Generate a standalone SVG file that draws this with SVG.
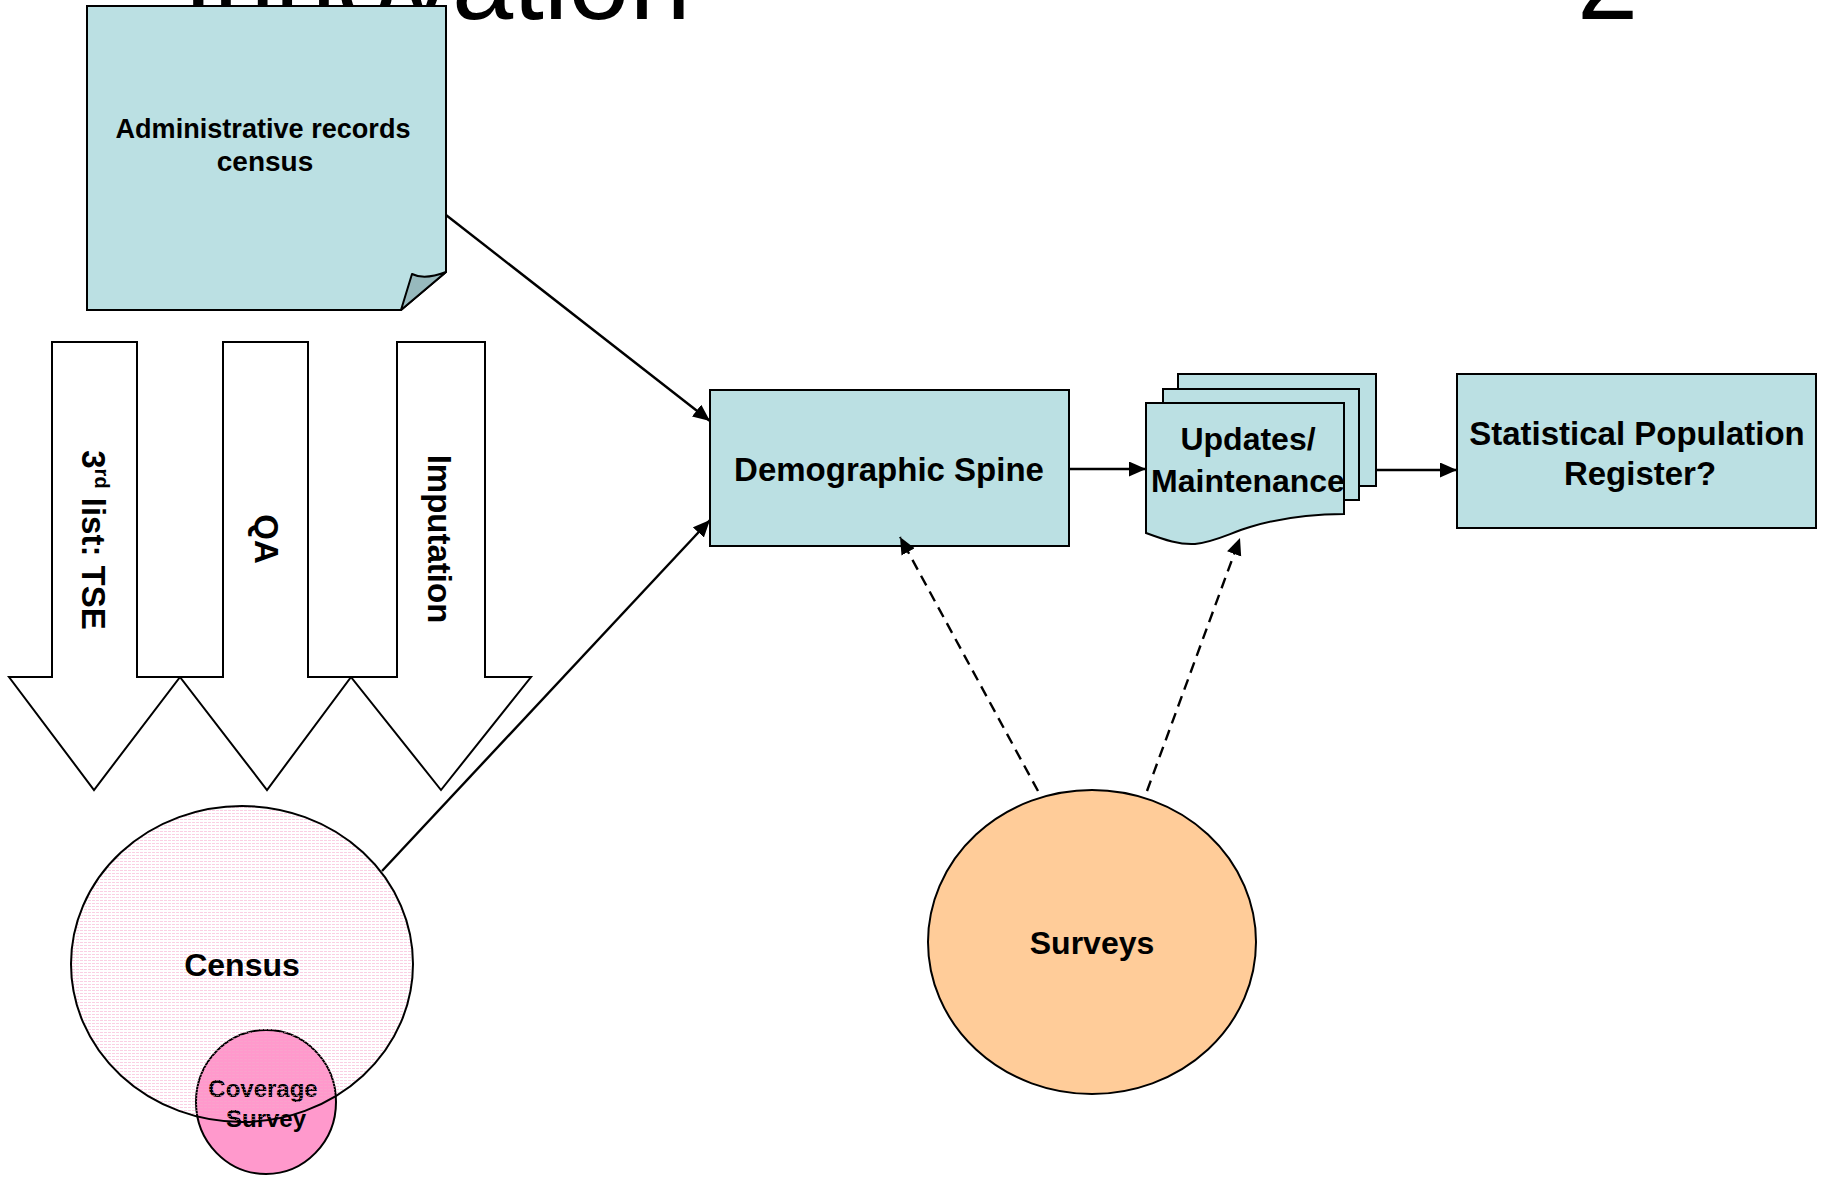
<svg xmlns="http://www.w3.org/2000/svg" width="1825" height="1179" viewBox="0 0 1825 1179">
<style>
.box{fill:#BBE0E3;stroke:#000;stroke-width:2}
.blk{fill:#fff;stroke:#000;stroke-width:2}
.t{font-family:"Liberation Sans",Arial,sans-serif;font-weight:bold;fill:#000;text-anchor:middle}
.title{font-family:"Liberation Sans",Arial,sans-serif;font-size:110px;fill:#000}
.conn{stroke:#000;stroke-width:2.4;fill:none}
.dash{stroke-dasharray:11 7}
</style>
<defs>
<marker id="ah" markerUnits="userSpaceOnUse" markerWidth="20" markerHeight="16" refX="17" refY="7.5" orient="auto">
<path d="M0,0 L17,7.5 L0,15 Z" fill="#000"/>
</marker>
<pattern id="pinkdots" width="4" height="3" patternUnits="userSpaceOnUse">
<rect x="0" y="0" width="3" height="1" fill="#F5A9CB" fill-opacity="0.55"/>
</pattern>
</defs>
<rect width="1825" height="1179" fill="#fff"/>

<g id="title">
<text class="title" x="183" y="19">Innovation</text>
<text class="title" x="1577" y="19">2</text>
</g>

<g id="admin-records">
<path class="box" d="M87,6 H446 V272 L401,310 H87 Z"/>
<path d="M401,310 L412,274 C420,278 433,277 446,272 Z" fill="#97B9BD" stroke="#000" stroke-width="2" stroke-linejoin="round"/>
<text class="t" font-size="28" x="263" y="138" textLength="295" lengthAdjust="spacingAndGlyphs">Administrative records</text>
<text class="t" font-size="28" x="265" y="171">census</text>
</g>

<g id="arrow-tse">
<path class="blk" d="M52,342 H137 V677 H180 L94,790 L9,677 H52 Z"/>
<text class="t" font-size="33" transform="translate(94,540) rotate(90)" x="0" y="12">3<tspan font-size="20" baseline-shift="super" dy="-2">rd</tspan><tspan dy="2"> list: TSE</tspan></text>
</g>
<g id="arrow-qa">
<path class="blk" d="M223,342 H308 V677 H351 L267,790 L180,677 H223 Z"/>
<text class="t" font-size="33" transform="translate(267,539) rotate(90)" x="0" y="12">QA</text>
</g>
<g id="arrow-imputation">
<path class="blk" d="M397,342 H485 V677 H531 L441,790 L351,677 H397 Z"/>
<text class="t" font-size="33" transform="translate(440,539) rotate(90)" x="0" y="12">Imputation</text>
</g>

<g id="coverage-survey">
<ellipse cx="266" cy="1102" rx="70" ry="72" fill="#FF99CC" stroke="#000" stroke-width="2"/>
<text class="t" font-size="24" x="263" y="1097">Coverage</text>
<text class="t" font-size="24" x="266" y="1127">Survey</text>
</g>

<g id="census">
<ellipse cx="242" cy="964" rx="171" ry="158" fill="url(#pinkdots)" stroke="#000" stroke-width="2"/>
<text class="t" font-size="32" x="242" y="976">Census</text>
</g>

<g id="demographic-spine">
<rect class="box" x="710" y="390" width="359" height="156"/>
<text class="t" font-size="33" x="889" y="481">Demographic Spine</text>
</g>

<g id="updates-maintenance">
<rect class="box" x="1178" y="374" width="198" height="112"/>
<rect class="box" x="1163" y="389" width="196" height="111"/>
<path class="box" d="M1146,403 H1344 V514 C1310,514 1280,518 1250,527 C1230,533 1215,542 1195,544 C1180,545 1165,540 1146,533 Z"/>
<text class="t" font-size="32" x="1248" y="450">Updates/</text>
<text class="t" font-size="32" x="1248" y="492">Maintenance</text>
</g>

<g id="statistical-population-register">
<rect class="box" x="1457" y="374" width="359" height="154"/>
<text class="t" font-size="33" x="1637" y="445">Statistical Population</text>
<text class="t" font-size="33" x="1640" y="485">Register?</text>
</g>

<g id="surveys">
<ellipse cx="1092" cy="942" rx="164" ry="152" fill="#FFCC99" stroke="#000" stroke-width="2"/>
<text class="t" font-size="32" x="1092" y="954">Surveys</text>
</g>

<g id="connectors">
<line class="conn" x1="446" y1="215" x2="710" y2="421" marker-end="url(#ah)"/>
<line class="conn" x1="382" y1="871" x2="710" y2="520" marker-end="url(#ah)"/>
<line class="conn" x1="1069" y1="469" x2="1146" y2="469" marker-end="url(#ah)"/>
<line class="conn" x1="1377" y1="470" x2="1457" y2="470" marker-end="url(#ah)"/>
<line class="conn dash" x1="1038" y1="791" x2="900" y2="537" marker-end="url(#ah)"/>
<line class="conn dash" x1="1147" y1="791" x2="1240" y2="538" marker-end="url(#ah)"/>
</g>
</svg>
